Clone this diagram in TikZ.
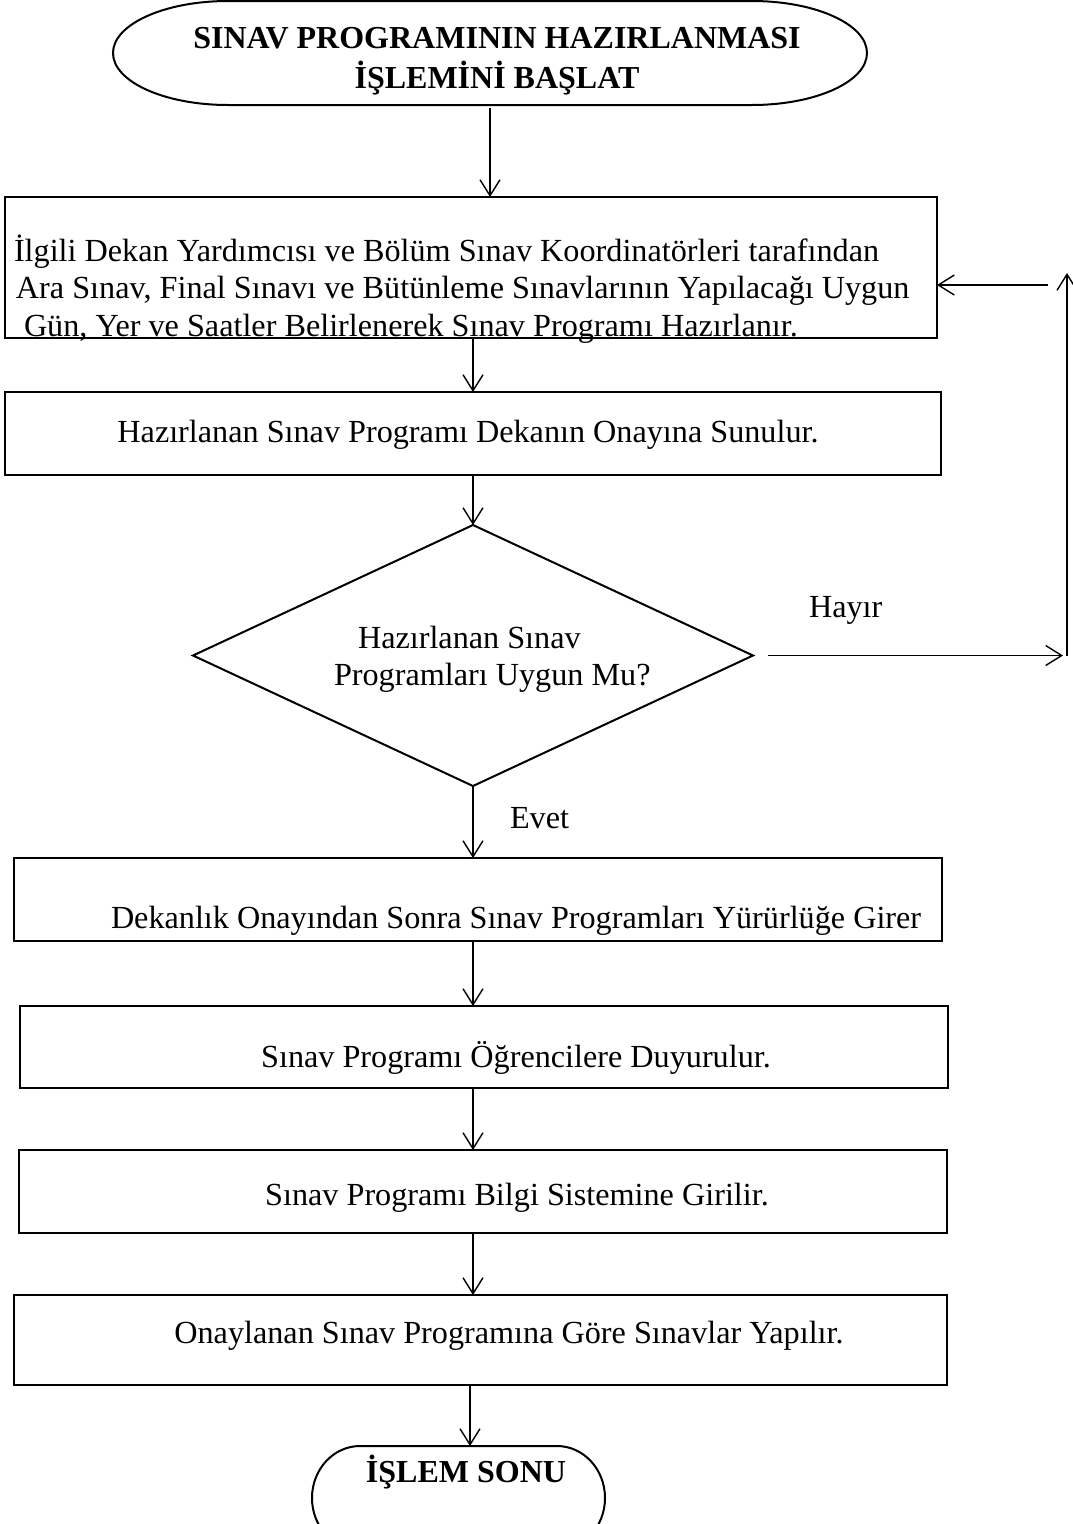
\documentclass[tikz,border=0pt]{standalone}
\usepackage{fontspec}
\setmainfont{Liberation Serif}
\usetikzlibrary{shapes.geometric,arrows.meta,calc}
\newcommand\bodytext{\fontsize{32.2}{38}\selectfont}
\newcommand\headtext{\fontsize{32}{40}\selectfont\bfseries}
\begin{document}
\begin{tikzpicture}[x=1pt,y=-1pt,
  every node/.style={inner sep=0pt,outer sep=0pt},
  pbox/.style={draw,line width=2pt,rectangle},
  dbox/.style={draw,line width=2pt,diamond,aspect=2},
  term/.style={rectangle},
  lbl/.style={font=\bodytext},
  hlbl/.style={font=\headtext},
  arr/.style={line width=1.4pt,-{Straight Barb[length=16pt,width=20pt,line width=1.4pt]}}]
\fill[white] (0,0) rectangle (1073,1524);
\useasboundingbox (0,0) rectangle (1073,1524);
\clip (0,0) rectangle (1073,1524);

% start terminator
\node[term,minimum width=754pt,minimum height=104pt] (start) at (490,53) {};
\draw[line width=2pt] (228,1) -- (752,1)
  arc[start angle=90,end angle=-90,x radius=115pt,y radius=52pt] -- (228,105)
  arc[start angle=270,end angle=90,x radius=115pt,y radius=52pt] -- cycle;
\node[hlbl,anchor=base] (st1) at (497,48) {SINAV PROGRAMININ HAZIRLANMASI};
\node[hlbl,anchor=base] (st2) at (497,88) {İŞLEMİNİ BAŞLAT};

% process boxes
\node[pbox,minimum width=932pt,minimum height=141pt] (b1) at (471,267.5) {};
\node[lbl,anchor=base west] (b1l1) at (14,261) {İlgili Dekan Yardımcısı ve Bölüm Sınav Koordinatörleri tarafından};
\node[lbl,anchor=base west] (b1l2) at (16,298) {Ara Sınav, Final Sınavı ve Bütünleme Sınavlarının Yapılacağı Uygun};
\node[lbl,anchor=base west] (b1l3) at (24,336) {Gün, Yer ve Saatler Belirlenerek Sınav Programı Hazırlanır.};

\node[pbox,minimum width=936pt,minimum height=83pt] (b2) at (473,433.5) {};
\node[lbl,anchor=base] (b2t) at (468,442) {Hazırlanan Sınav Programı Dekanın Onayına Sunulur.};

% decision
\node[dbox,minimum width=560pt,minimum height=261pt] (d) at (473,655.5) {};
\node[lbl,anchor=base west] (dl1) at (358,648) {Hazırlanan Sınav};
\node[lbl,anchor=base west] (dl2) at (334,685) {Programları Uygun Mu?};

\node[pbox,minimum width=928pt,minimum height=83pt] (b3) at (478,899.5) {};
\node[lbl,anchor=base west] (b3t) at (111,928) {Dekanlık Onayından Sonra Sınav Programları Yürürlüğe Girer};

\node[pbox,minimum width=928pt,minimum height=82pt] (b4) at (484,1047) {};
\node[lbl,anchor=base] (b4t) at (516,1067) {Sınav Programı Öğrencilere Duyurulur.};

\node[pbox,minimum width=928pt,minimum height=83pt] (b5) at (483,1191.5) {};
\node[lbl,anchor=base] (b5t) at (517,1205) {Sınav Programı Bilgi Sistemine Girilir.};

\node[pbox,minimum width=933pt,minimum height=90pt] (b6) at (480.5,1340) {};
\node[lbl,anchor=base] (b6t) at (509,1343) {Onaylanan Sınav Programına Göre Sınavlar Yapılır.};

% end terminator
\node[term,minimum width=293pt,minimum height=104pt] (stop) at (458.5,1498) {};
\draw[line width=2pt] (360,1446) -- (557,1446)
  arc[start angle=90,end angle=-90,x radius=48pt,y radius=52pt] -- (360,1550)
  arc[start angle=270,end angle=90,x radius=48pt,y radius=52pt] -- cycle;
\node[hlbl,anchor=base] (stopt) at (466,1482) {İŞLEM SONU};

% connectors
\draw[arr] ([yshift=-3pt]start.south) -- (start.south |- b1.north);
\draw[arr] (d.north |- b1.south) -- (d.north |- b2.north);
\draw[arr] (d.north |- b2.south) -- (d.north);
\draw[arr] (d.south) -- (d.south |- b3.north);
\node[lbl,anchor=base west] (yes) at (510,828) {Evet};
\draw[arr] (d.south |- b3.south) -- (d.south |- b4.north);
\draw[arr] (d.south |- b4.south) -- (d.south |- b5.north);
\draw[arr] (d.south |- b5.south) -- (d.south |- b6.north);
\draw[arr] (470,1386) -- (stop.north -| 470,0);

% return path when the programme is not suitable
\coordinate (nA) at ([xshift=15pt]d.east);
\coordinate (nB) at (1063,655.5);
\coordinate (nC) at (1067,656);
\coordinate (nD) at (1067,273);
\coordinate (nE) at (1048,285);
\draw[arr] (nA) -- (nB);
\node[lbl,anchor=base west] (no) at (809,617) {Hayır};
\draw[arr] (nC) -- (nD);
\draw[arr] (nE) -- (b1.east |- nE);
\end{tikzpicture}
\end{document}
